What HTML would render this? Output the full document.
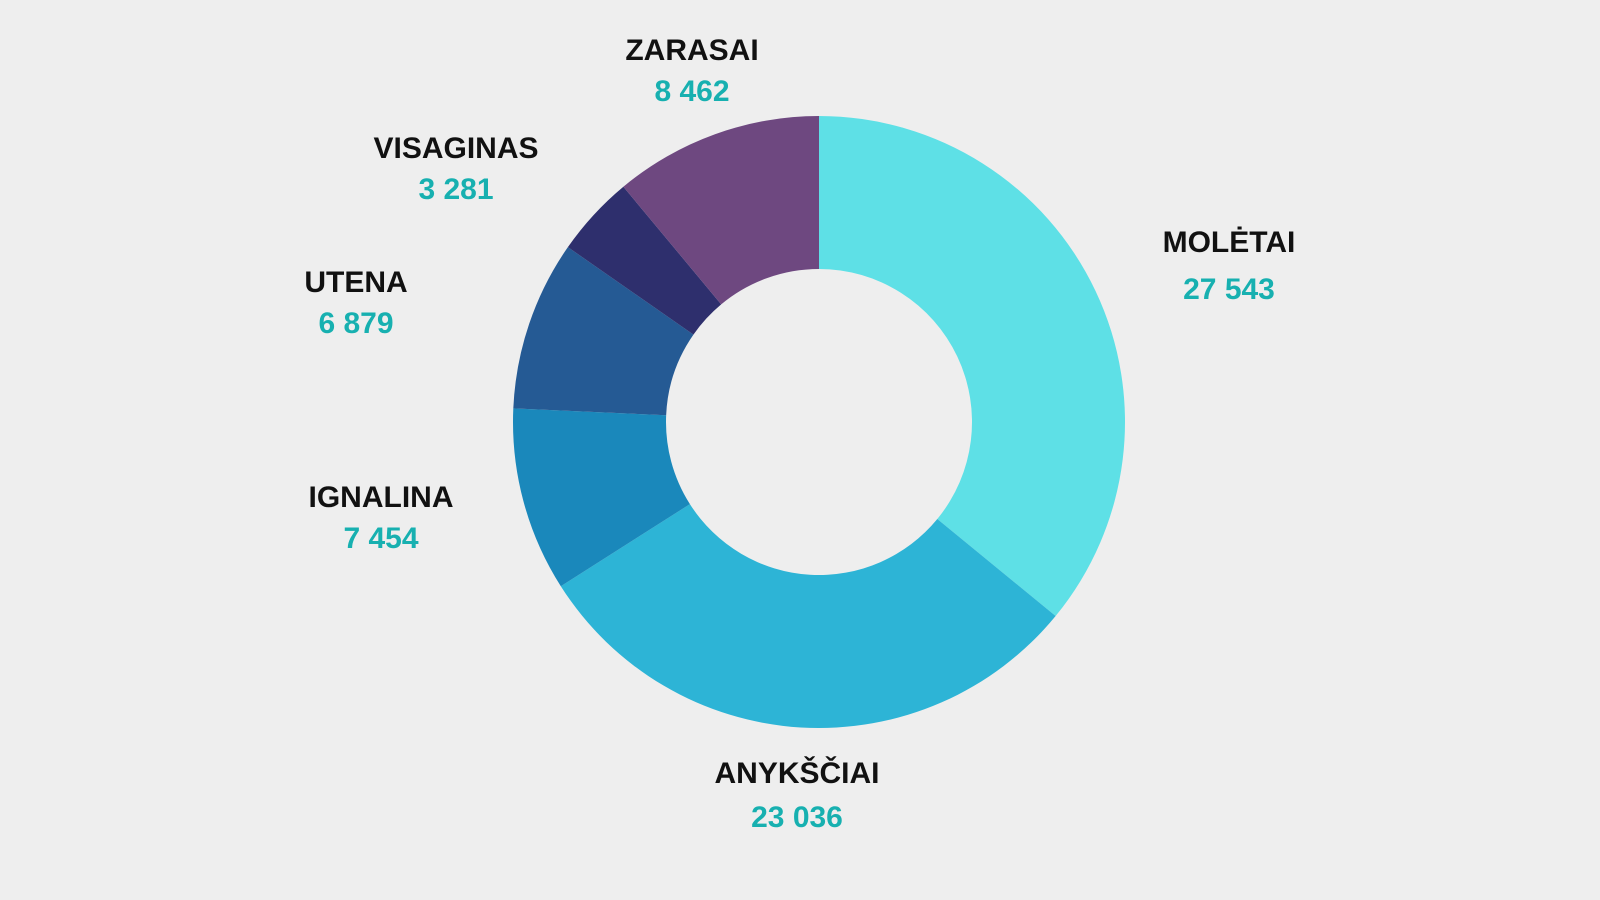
<!DOCTYPE html>
<html><head><meta charset="utf-8"><style>
html,body{margin:0;padding:0;background:#eeeeee;}
svg{display:block;}
text{font-family:"Liberation Sans",sans-serif;font-weight:bold;font-size:30px;text-anchor:middle;}
.n{fill:#111;}
.v{fill:#17b0b0;}
</style></head><body>
<svg id="chart" width="1600" height="900" viewBox="0 0 1600 900">
<rect width="1600" height="900" fill="#eeeeee"/>
<g id="slices"></g>
<g id="labels"></g>
</svg>
<script>
const categories = ["MOLĖTAI","ANYKŠČIAI","IGNALINA","UTENA","VISAGINAS","ZARASAI"];
const values = [27543, 23036, 7454, 6879, 3281, 8462];
const valueLabels = ["27 543","23 036","7 454","6 879","3 281","8 462"];
const colors = ["#5ee0e6","#2db4d6","#1a88bb","#255a94","#2e2f6d","#6e4880"];
const cx=819, cy=422, R=306, r=153;
const labelPos = [[1229,241],[797,772],[381,496],[356,281],[456,147],[692,49]];
const ns="http://www.w3.org/2000/svg";
const total=values.reduce((a,b)=>a+b,0);
const gS=document.getElementById('slices'), gL=document.getElementById('labels');
function pt(a,rad){return [cx+rad*Math.sin(a), cy-rad*Math.cos(a)];}
let acc=0;
values.forEach((v,i)=>{
  const a0=acc/total*2*Math.PI; acc+=v; const a1=acc/total*2*Math.PI;
  const large=(a1-a0)>Math.PI?1:0;
  const p0=pt(a0,R),p1=pt(a1,R),q1=pt(a1,r),q0=pt(a0,r);
  const p=document.createElementNS(ns,'path');
  p.setAttribute('d',`M${p0[0]},${p0[1]} A${R},${R} 0 ${large} 1 ${p1[0]},${p1[1]} L${q1[0]},${q1[1]} A${r},${r} 0 ${large} 0 ${q0[0]},${q0[1]} Z`);
  p.setAttribute('fill',colors[i]);
  
  
  gS.appendChild(p);
  const [lx,ly]=labelPos[i];
  const t=document.createElementNS(ns,'text');
  t.setAttribute('x',lx);t.setAttribute('y',ly+11);t.setAttribute('class','n');
  t.textContent=categories[i];
  
  
  gL.appendChild(t);
  const t2=document.createElementNS(ns,'text');
  t2.setAttribute('x',lx);t2.setAttribute('y',ly+11+ (i===1?44:(i===0?47:41)));t2.setAttribute('class','v');
  t2.textContent=valueLabels[i];
  
  
  gL.appendChild(t2);
});
</script>
</body></html>
